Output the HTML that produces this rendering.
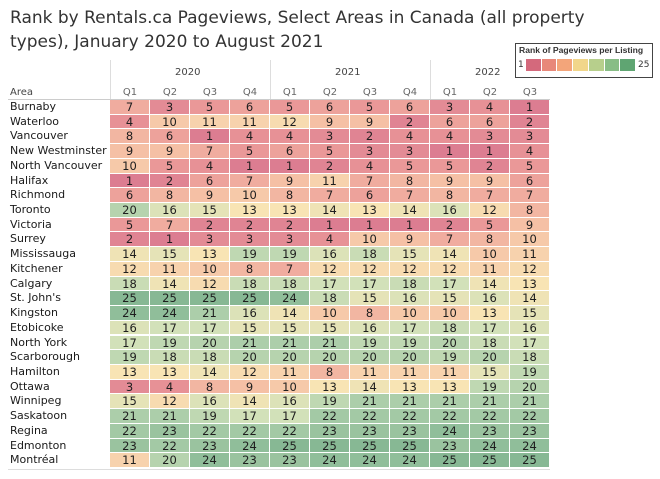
<!DOCTYPE html>
<html><head><meta charset="utf-8"><style>
body{margin:0;width:660px;height:479px;background:#fff;font-family:"DejaVu Sans","Liberation Sans",sans-serif;position:relative;overflow:hidden;color:#333}
.t{position:absolute;left:10px;font-size:17px;color:#333;white-space:nowrap}
.a{position:absolute;font-size:10px;color:#444}
.c{position:absolute;width:39px;height:13.7px;text-align:center;line-height:14px;color:#1e1e1e;font-size:11.5px}
.n{position:absolute;left:10px;font-size:11px;color:#1a1a1a;line-height:14px}
</style></head><body>
<div class="t" style="top:8px">Rank by Rentals.ca Pageviews, Select Areas in Canada (all property</div>
<div class="t" style="top:32px">types), January 2020 to August 2021</div>
<div style="position:absolute;left:515px;top:43px;width:136px;height:33px;border:1.5px solid #444;background:#fff">
<div style="position:absolute;left:3px;top:1px;font-size:8.6px;font-weight:bold;color:#333;white-space:nowrap;font-family:'Liberation Sans',sans-serif">Rank of Pageviews per Listing</div>
<div style="position:absolute;left:2px;top:16px;font-size:9px">1</div>
<div style="position:absolute;left:122px;top:16px;font-size:9px">25</div>
<div id="lg" style="position:absolute;left:10px;top:15px;width:110px;height:12px;display:flex"></div>
</div>
<div id="g"></div>
<script>
var stops=[[1,[220,125,145]],[5,[234,152,152]],[9,[245,192,165]],[13,[248,228,180]],[17,[210,225,185]],[21,[172,206,170]],[25,[135,184,148]]];
function col(v){for(var i=0;i<stops.length-1;i++){var a=stops[i],b=stops[i+1];if(v<=b[0]){var t=(v-a[0])/(b[0]-a[0]);return 'rgb('+a[1].map((x,k)=>Math.round(x+(b[1][k]-x)*t)).join(',')+')';}}}
var lgc=['#d4697c','#e8887a','#f3a57a','#f1d68a','#b7cf8c','#88bd86','#5fa572'];
var lg=document.getElementById('lg');lgc.forEach(c=>{var d=document.createElement('div');d.style.cssText='flex:1;margin-right:1px;background:'+c;lg.appendChild(d)});
var D=[["Burnaby",7,3,5,6,5,6,5,6,3,4,1],["Waterloo",4,10,11,11,12,9,9,2,6,6,2],["Vancouver",8,6,1,4,4,3,2,4,4,3,3],["New Westminster",9,9,7,5,6,5,3,3,1,1,4],["North Vancouver",10,5,4,1,1,2,4,5,5,2,5],["Halifax",1,2,6,7,9,11,7,8,9,9,6],["Richmond",6,8,9,10,8,7,6,7,8,7,7],["Toronto",20,16,15,13,13,14,13,14,16,12,8],["Victoria",5,7,2,2,2,1,1,1,2,5,9],["Surrey",2,1,3,3,3,4,10,9,7,8,10],["Mississauga",14,15,13,19,19,16,18,15,14,10,11],["Kitchener",12,11,10,8,7,12,12,12,12,11,12],["Calgary",18,14,12,18,18,17,17,18,17,14,13],["St. John's",25,25,25,25,24,18,15,16,15,16,14],["Kingston",24,24,21,16,14,10,8,10,10,13,15],["Etobicoke",16,17,17,15,15,15,16,17,18,17,16],["North York",17,19,20,21,21,21,19,19,20,18,17],["Scarborough",19,18,18,20,20,20,20,20,19,20,18],["Hamilton",13,13,14,12,11,8,11,11,11,15,19],["Ottawa",3,4,8,9,10,13,14,13,13,19,20],["Winnipeg",15,12,16,14,16,19,21,21,21,21,21],["Saskatoon",21,21,19,17,17,22,22,22,22,22,22],["Regina",22,23,22,22,22,23,23,23,24,23,23],["Edmonton",23,22,23,24,25,25,25,25,23,24,24],["Montréal",11,20,24,23,23,24,24,24,25,25,25]];
var h='';
var yrs=[['2020',190],['2021',350],['2022',490]];
yrs.forEach(y=>h+='<div class="a" style="left:'+(y[1]-15)+'px;top:67px">'+y[0]+'</div>');
[110,270,430].forEach(x=>h+='<div style="position:absolute;left:'+x+'px;top:60px;width:1px;height:40px;background:#ddd"></div>');
h+='<div class="a" style="left:10px;top:87px">Area</div>';
var q=['Q1','Q2','Q3','Q4','Q1','Q2','Q3','Q4','Q1','Q2','Q3'];
q.forEach((s,i)=>h+='<div class="a" style="left:'+(110+i*40)+'px;width:40px;text-align:center;top:87px;color:#666">'+s+'</div>');
h+='<div style="position:absolute;left:8px;top:98.5px;width:542px;height:1px;background:#ccc"></div>';
D.forEach((r,j)=>{var y=100+j*14.72;h+='<div class="n" style="top:'+y+'px">'+r[0]+'</div>';
for(var i=1;i<12;i++)h+='<div class="c" style="left:'+(110+(i-1)*40)+'px;top:'+y+'px;background:'+col(r[i])+'">'+r[i]+'</div>';});
h+='<div style="position:absolute;left:8px;top:469px;width:542px;height:1px;background:#ddd"></div>';
document.getElementById('g').innerHTML=h;
</script>
</body></html>
